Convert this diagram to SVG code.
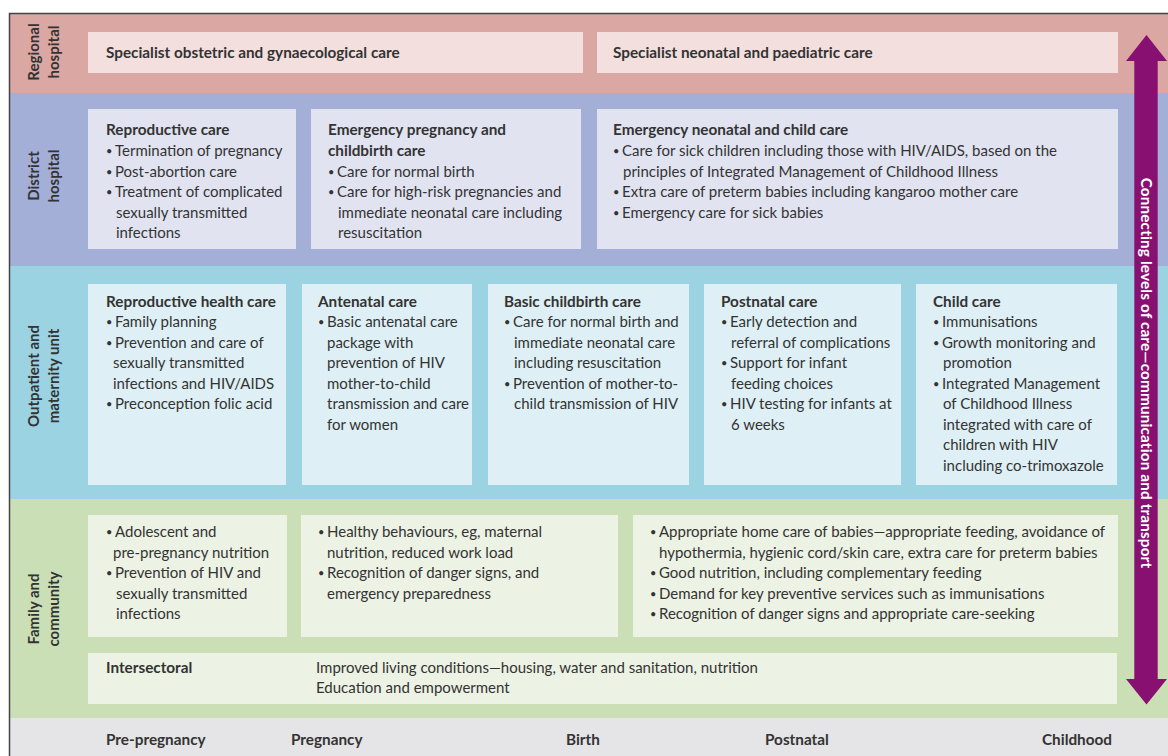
<svg xmlns="http://www.w3.org/2000/svg" width="1168" height="756" viewBox="0 0 1168 756">
  <style>
    text { font-family: Lato, "Liberation Sans", sans-serif; font-size: 15px; fill: #333333; }
    .b { font-weight: bold; font-size: 15.3px; }
    .dot { font-size: 11px; }
    .side { font-weight: bold; font-size: 15px; text-anchor: middle; }
    .arrowtxt { font-weight: bold; font-size: 15.3px; fill: #ffffff; text-anchor: middle; letter-spacing: 0.15px; }
    .reg { fill: #daa7a3; }
    .regbox { fill: #f2dfde; }
    .dis { fill: #a3afd6; }
    .disbox { fill: #e1e3f1; }
    .out { fill: #9bd3e3; }
    .outbox { fill: #def0f5; }
    .fam { fill: #cadfb6; }
    .fambox { fill: #ecf2e4; }
    .axis { fill: #e5e5e7; }
    .conn { fill: #871070; }
  </style>

  <rect x="0" y="0" width="1168" height="756" fill="#ffffff"/>

  <!-- level bands -->
  <g id="bands">
    <rect class="reg" x="10" y="13" width="1158" height="80"/>
    <rect class="dis" x="10" y="93" width="1158" height="173"/>
    <rect class="out" x="10" y="266" width="1158" height="233"/>
    <rect class="fam" x="10" y="499" width="1158" height="219"/>
    <rect class="axis" x="10" y="718" width="1158" height="38"/>
    <path d="M9.5 756 V13.5 H1168" fill="none" stroke="#444444" stroke-width="1.5"/>
  </g>

  <!-- level labels -->
  <g id="label-regional">
    <text class="side" transform="translate(39 52) rotate(-90)">Regional</text>
    <text class="side" transform="translate(59 52) rotate(-90)">hospital</text>
  </g>
  <g id="label-district">
    <text class="side" transform="translate(39 176) rotate(-90)">District</text>
    <text class="side" transform="translate(59 176) rotate(-90)">hospital</text>
  </g>
  <g id="label-outpatient">
    <text class="side" transform="translate(39 376) rotate(-90)">Outpatient and</text>
    <text class="side" transform="translate(59 376) rotate(-90)">maternity unit</text>
  </g>
  <g id="label-family">
    <text class="side" transform="translate(39 609) rotate(-90)">Family and</text>
    <text class="side" transform="translate(59 609) rotate(-90)">community</text>
  </g>

  <!-- regional hospital -->
  <g id="specialist-obstetric">
    <rect class="regbox" x="88" y="32" width="495" height="41"/>
    <text class="b" x="106" y="57.5">Specialist obstetric and gynaecological care</text>
  </g>
  <g id="specialist-neonatal">
    <rect class="regbox" x="597" y="32" width="521" height="41"/>
    <text class="b" x="613" y="57.5">Specialist neonatal and paediatric care</text>
  </g>

  <!-- district hospital -->
  <g id="reproductive-care">
    <rect class="disbox" x="88" y="109" width="208" height="140"/>
    <text class="b" x="106" y="135">Reproductive care</text>
    <text x="106" y="155"><tspan class="dot">•</tspan><tspan x="115" y="156">Termination of pregnancy</tspan></text>
    <text x="106" y="175.5"><tspan class="dot">•</tspan><tspan x="115" y="176.5">Post-abortion care</tspan></text>
    <text x="106" y="196"><tspan class="dot">•</tspan><tspan x="115" y="197">Treatment of complicated</tspan></text>
    <text x="116" y="217.5">sexually transmitted</text>
    <text x="116" y="238">infections</text>
  </g>
  <g id="emergency-pregnancy">
    <rect class="disbox" x="311" y="109" width="270" height="140"/>
    <text class="b" x="328" y="135">Emergency pregnancy and</text>
    <text class="b" x="328" y="156">childbirth care</text>
    <text x="328" y="175.5"><tspan class="dot">•</tspan><tspan x="337" y="176.5">Care for normal birth</tspan></text>
    <text x="328" y="196"><tspan class="dot">•</tspan><tspan x="337" y="197">Care for high-risk pregnancies and</tspan></text>
    <text x="338" y="217.5">immediate neonatal care including</text>
    <text x="338" y="238">resuscitation</text>
  </g>
  <g id="emergency-neonatal">
    <rect class="disbox" x="597" y="109" width="521" height="140"/>
    <text class="b" x="613" y="135">Emergency neonatal and child care</text>
    <text x="613" y="155"><tspan class="dot">•</tspan><tspan x="622" y="156">Care for sick children including those with HIV/AIDS, based on the</tspan></text>
    <text x="623" y="176.5">principles of Integrated Management of Childhood Illness</text>
    <text x="613" y="196"><tspan class="dot">•</tspan><tspan x="622" y="197">Extra care of preterm babies including kangaroo mother care</tspan></text>
    <text x="613" y="216.5"><tspan class="dot">•</tspan><tspan x="622" y="217.5">Emergency care for sick babies</tspan></text>
  </g>

  <!-- outpatient and maternity unit -->
  <g id="reproductive-health">
    <rect class="outbox" x="88" y="284" width="198" height="201"/>
    <text class="b" x="106" y="306.5">Reproductive health care</text>
    <text x="106" y="326"><tspan class="dot">•</tspan><tspan x="115" y="327">Family planning</tspan></text>
    <text x="106" y="346.5"><tspan class="dot">•</tspan><tspan x="115" y="347.5">Prevention and care of</tspan></text>
    <text x="113" y="368">sexually transmitted</text>
    <text x="113" y="388.5">infections and HIV/AIDS</text>
    <text x="106" y="408"><tspan class="dot">•</tspan><tspan x="115" y="409">Preconception folic acid</tspan></text>
  </g>
  <g id="antenatal">
    <rect class="outbox" x="302" y="284" width="170" height="201"/>
    <text class="b" x="318" y="306.5">Antenatal care</text>
    <text x="318" y="326"><tspan class="dot">•</tspan><tspan x="327" y="327">Basic antenatal care</tspan></text>
    <text x="327" y="347.5">package with</text>
    <text x="327" y="368">prevention of HIV</text>
    <text x="327" y="388.5">mother-to-child</text>
    <text x="327" y="409">transmission and care</text>
    <text x="327" y="429.5">for women</text>
  </g>
  <g id="basic-childbirth">
    <rect class="outbox" x="488" y="284" width="201" height="201"/>
    <text class="b" x="504" y="306.5">Basic childbirth care</text>
    <text x="504" y="326"><tspan class="dot">•</tspan><tspan x="513" y="327">Care for normal birth and</tspan></text>
    <text x="514" y="347.5">immediate neonatal care</text>
    <text x="514" y="368">including resuscitation</text>
    <text x="504" y="387.5"><tspan class="dot">•</tspan><tspan x="513" y="388.5">Prevention of mother-to-</tspan></text>
    <text x="514" y="409">child transmission of HIV</text>
  </g>
  <g id="postnatal">
    <rect class="outbox" x="704" y="284" width="197" height="201"/>
    <text class="b" x="721" y="306.5">Postnatal care</text>
    <text x="721" y="326"><tspan class="dot">•</tspan><tspan x="730" y="327">Early detection and</tspan></text>
    <text x="731" y="347.5">referral of complications</text>
    <text x="721" y="367"><tspan class="dot">•</tspan><tspan x="730" y="368">Support for infant</tspan></text>
    <text x="731" y="388.5">feeding choices</text>
    <text x="721" y="408"><tspan class="dot">•</tspan><tspan x="730" y="409">HIV testing for infants at</tspan></text>
    <text x="731" y="429.5">6 weeks</text>
  </g>
  <g id="child-care">
    <rect class="outbox" x="916" y="284" width="201" height="201"/>
    <text class="b" x="933" y="306.5">Child care</text>
    <text x="933" y="326"><tspan class="dot">•</tspan><tspan x="942" y="327">Immunisations</tspan></text>
    <text x="933" y="346.5"><tspan class="dot">•</tspan><tspan x="942" y="347.5">Growth monitoring and</tspan></text>
    <text x="943" y="368">promotion</text>
    <text x="933" y="387.5"><tspan class="dot">•</tspan><tspan x="942" y="388.5">Integrated Management</tspan></text>
    <text x="943" y="409">of Childhood Illness</text>
    <text x="943" y="429.5">integrated with care of</text>
    <text x="943" y="450">children with HIV</text>
    <text x="943" y="470.5">including co-trimoxazole</text>
  </g>

  <!-- family and community -->
  <g id="adolescent">
    <rect class="fambox" x="88" y="515" width="199" height="122"/>
    <text x="106" y="536"><tspan class="dot">•</tspan><tspan x="115" y="537">Adolescent and</tspan></text>
    <text x="113" y="557.5">pre-pregnancy nutrition</text>
    <text x="106" y="577"><tspan class="dot">•</tspan><tspan x="115" y="578">Prevention of HIV and</tspan></text>
    <text x="116" y="598.5">sexually transmitted</text>
    <text x="116" y="619">infections</text>
  </g>
  <g id="healthy-behaviours">
    <rect class="fambox" x="301" y="515" width="317" height="122"/>
    <text x="318" y="536"><tspan class="dot">•</tspan><tspan x="327" y="537">Healthy behaviours, eg, maternal</tspan></text>
    <text x="327" y="557.5">nutrition, reduced work load</text>
    <text x="318" y="577"><tspan class="dot">•</tspan><tspan x="327" y="578">Recognition of danger signs, and</tspan></text>
    <text x="327" y="598.5">emergency preparedness</text>
  </g>
  <g id="home-care">
    <rect class="fambox" x="633" y="515" width="485" height="122"/>
    <text x="650" y="536"><tspan class="dot">•</tspan><tspan x="659" y="537">Appropriate home care of babies—appropriate feeding, avoidance of</tspan></text>
    <text x="659" y="557.5">hypothermia, hygienic cord/skin care, extra care for preterm babies</text>
    <text x="650" y="577"><tspan class="dot">•</tspan><tspan x="659" y="578">Good nutrition, including complementary feeding</tspan></text>
    <text x="650" y="597.5"><tspan class="dot">•</tspan><tspan x="659" y="598.5">Demand for key preventive services such as immunisations</tspan></text>
    <text x="650" y="618"><tspan class="dot">•</tspan><tspan x="659" y="619">Recognition of danger signs and appropriate care-seeking</tspan></text>
  </g>
  <g id="intersectoral">
    <rect class="fambox" x="88" y="653" width="1029" height="51"/>
    <text class="b" x="106" y="673">Intersectoral</text>
    <text x="316" y="673">Improved living conditions—housing, water and sanitation, nutrition</text>
    <text x="316" y="693">Education and empowerment</text>
  </g>

  <!-- life stages -->
  <g id="stages">
    <text class="b" x="106" y="745">Pre-pregnancy</text>
    <text class="b" x="291" y="745">Pregnancy</text>
    <text class="b" x="566" y="745">Birth</text>
    <text class="b" x="765" y="745">Postnatal</text>
    <text class="b" x="1042" y="745">Childhood</text>
  </g>

  <!-- two-way link between levels of care -->
  <g id="connectors">
    <path class="conn" d="M1146.5 35 L1167 61 L1157.7 61 L1157.7 679 L1167 679 L1146.5 704.5 L1126 679 L1134.3 679 L1134.3 61 L1126 61 Z"/>
    <text class="arrowtxt" transform="translate(1141 373) rotate(90)">Connecting levels of care—communication and transport</text>
  </g>
</svg>
